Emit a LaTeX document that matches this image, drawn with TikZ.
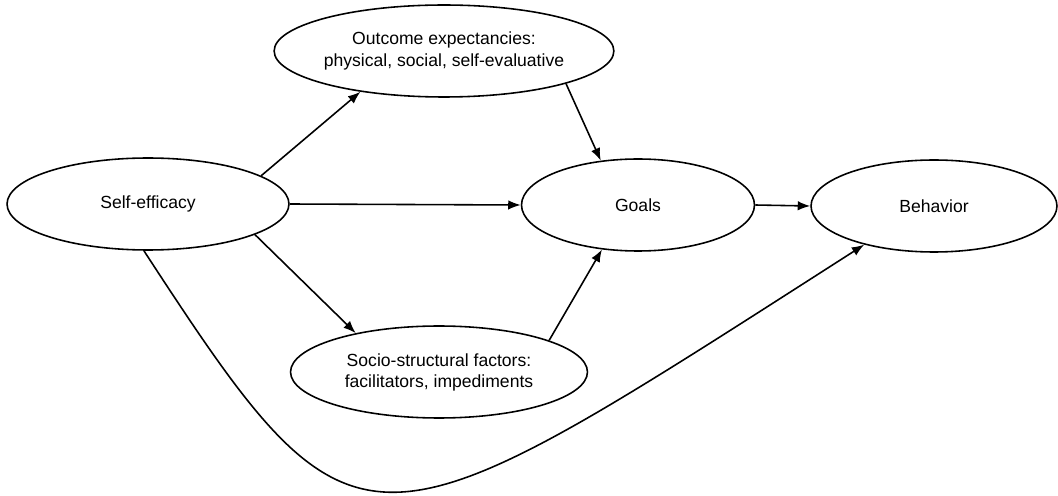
\documentclass[tikz,border=0pt]{standalone}
\usepackage{fontspec}
\setmainfont{Liberation Sans}
\usetikzlibrary{shapes.geometric,arrows.meta}

\begin{document}
\begin{tikzpicture}[x=0.02cm,y=-0.02cm,line width=0.9pt,>={Latex[length=2.5mm,width=1.9mm]},
        factor/.style={ellipse,draw,inner sep=0pt,align=center,minimum height=1.84cm}]
        \useasboundingbox (0,0) rectangle (1058,496);

        \draw (148,204) node (self) [factor,minimum width=5.64cm] {Self-efficacy};
        \draw (444,51) node (outcome) [factor,minimum width=5.8cm] {Outcome expectancies:\\physical, social, self-evaluative};
        \draw (638,205) node (goals) [factor,minimum width=4.66cm] {Goals};
        \draw (934,206) node (behav) [factor,minimum width=4.92cm] {Behavior};
        \draw (439,372) node (socio) [factor,minimum width=5.94cm] {Socio-structural factors:\\facilitators, impediments};

        \draw [->] (self.14) to (outcome.206);
        \draw [->] (self.east) to (goals.west);
        \draw [->] (self.-16) to (socio.155);
        \draw [->] (outcome.-15) to (goals.130);
        \draw [->] (socio.16) to (goals.231);
        \draw [->] (goals.east) to (behav.west);

        \draw [->] (self.265) .. controls +(215,330) and +(-500,320) .. (behav.209);

    \end{tikzpicture}
\end{document}
